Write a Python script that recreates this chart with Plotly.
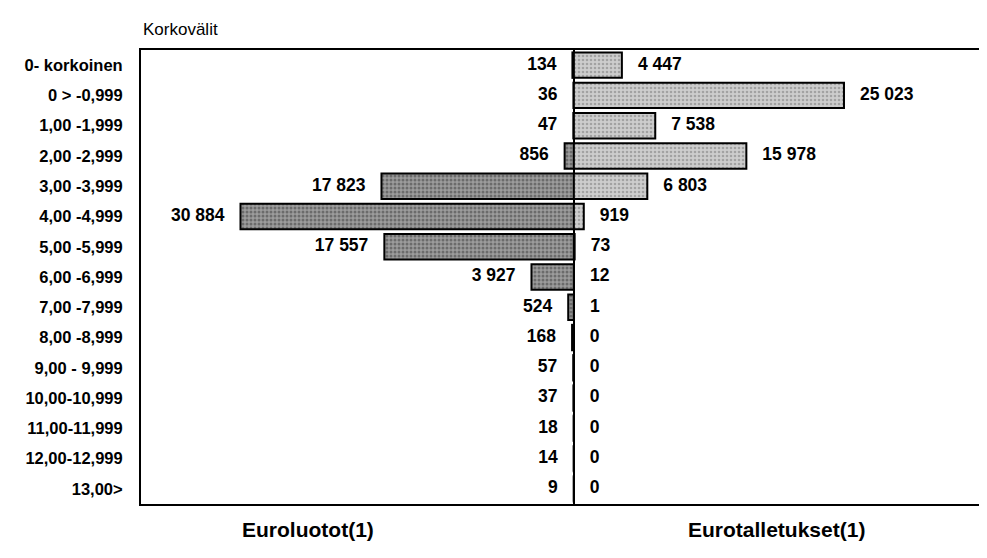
import plotly.graph_objects as go

categories = ["0- korkoinen", "0 > -0,999", "1,00 -1,999", "2,00 -2,999", "3,00 -3,999",
              "4,00 -4,999", "5,00 -5,999", "6,00 -6,999", "7,00 -7,999", "8,00 -8,999",
              "9,00 - 9,999", "10,00-10,999", "11,00-11,999", "12,00-12,999", "13,00>"]
euroluotot = [134, 36, 47, 856, 17823, 30884, 17557, 3927, 524, 168, 57, 37, 18, 14, 9]
eurotalletukset = [4447, 25023, 7538, 15978, 6803, 919, 73, 12, 1, 0, 0, 0, 0, 0, 0]

def fmt(v):
    return f"{v:,}".replace(",", " ")

FONT = "Liberation Sans, Arial, sans-serif"

fig = go.Figure()
fig.add_trace(go.Bar(
    y=categories, x=[-v for v in euroluotot], orientation="h", base=0,
    marker=dict(color="#8f8f8f", line=dict(color="black", width=2),
                pattern=dict(shape=".", fgcolor="#3a3a3a", bgcolor="#9c9c9c", size=4, solidity=0.45)),
    width=0.84, showlegend=False, hoverinfo="skip"))
fig.add_trace(go.Bar(
    y=categories, x=eurotalletukset, orientation="h", base=0,
    marker=dict(color="#c4c4c4", line=dict(color="black", width=2),
                pattern=dict(shape=".", fgcolor="#777777", bgcolor="#cdcdcd", size=4, solidity=0.35)),
    width=0.84, showlegend=False, hoverinfo="skip"))

fig.add_trace(go.Scatter(
    y=categories, x=[-v for v in euroluotot], mode="markers+text",
    marker=dict(size=24, opacity=0), text=[f"<b>{fmt(v)}</b>" for v in euroluotot],
    textposition="middle left", textfont=dict(family=FONT, size=17.5, color="black"),
    showlegend=False, hoverinfo="skip", cliponaxis=False))
fig.add_trace(go.Scatter(
    y=categories, x=eurotalletukset, mode="markers+text",
    marker=dict(size=24, opacity=0), text=[f"<b>{fmt(v)}</b>" for v in eurotalletukset],
    textposition="middle right", textfont=dict(family=FONT, size=17.5, color="black"),
    showlegend=False, hoverinfo="skip", cliponaxis=False))

fig.update_layout(
    width=987, height=558, barmode="overlay",
    margin=dict(l=133, r=10, t=42, b=62),
    plot_bgcolor="white", paper_bgcolor="white",
    font=dict(family=FONT, color="black"),
    xaxis=dict(range=[-40100, 37900], showticklabels=False, showgrid=False, ticks="",
               zeroline=True, zerolinecolor="black", zerolinewidth=2,
               showline=True, mirror=True, linecolor="black", linewidth=2),
    yaxis=dict(categoryorder="array", categoryarray=categories, range=[14.5, -0.5],
               showgrid=False, ticks="", tickfont=dict(family=FONT, size=16.5, color="black", weight="bold"),
               showline=True, mirror=True, linecolor="black", linewidth=2, ticklabelstandoff=13),
    annotations=[
        dict(text="Korkovälit", xref="paper", yref="paper", x=0, y=1, xanchor="left", yanchor="bottom",
             yshift=9, showarrow=False, font=dict(family=FONT, size=17, color="black")),
        dict(text="<b>Euroluotot(1)</b>", xref="x", yref="paper", x=-24670, y=0, yanchor="middle",
             yshift=-25, showarrow=False, font=dict(family=FONT, size=21, color="black")),
        dict(text="<b>Eurotalletukset(1)</b>", xref="x", yref="paper", x=18760, y=0, yanchor="middle",
             yshift=-25, showarrow=False, font=dict(family=FONT, size=21, color="black")),
    ],
)

fig.write_html("out.html")
